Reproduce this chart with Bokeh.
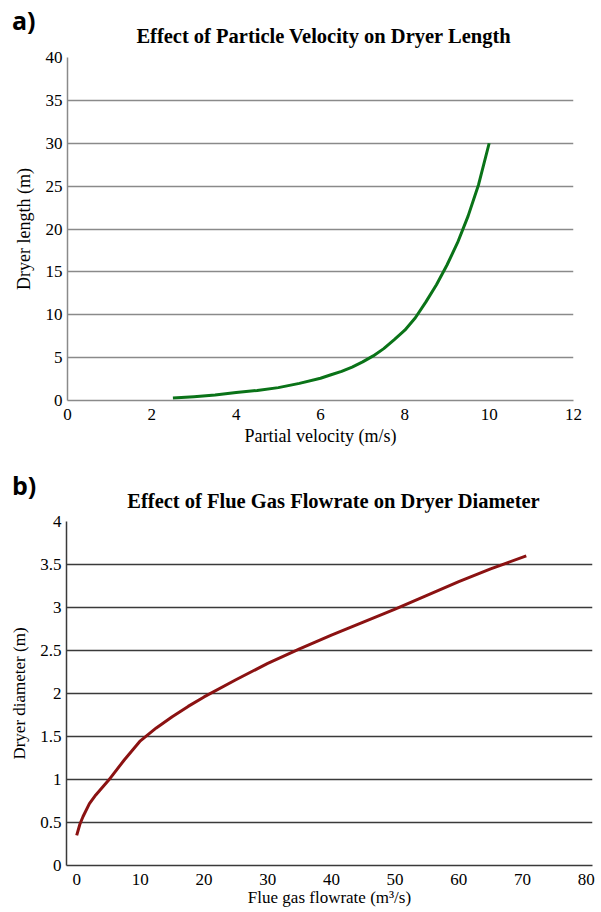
from bokeh.plotting import figure
from bokeh.models import Range1d, FixedTicker, Div
from bokeh.embed import file_html
from bokeh.resources import INLINE

# ---- data: panel a) particle velocity vs dryer length ----
velocity = [2.5, 3.0, 3.5, 4.0, 4.5, 5.0, 5.5, 6.0, 6.25, 6.5, 6.75, 7.0, 7.25, 7.5, 7.75,
            8.0, 8.25, 8.5, 8.75, 9.0, 9.25, 9.5, 9.75, 10.0]
dryer_length = [0.3, 0.45, 0.65, 0.92, 1.17, 1.5, 2.0, 2.6, 3.0, 3.4, 3.9, 4.5, 5.2, 6.05, 7.1,
                8.2, 9.65, 11.5, 13.5, 15.8, 18.4, 21.5, 25.2, 30.0]
a_xticks = [0, 2, 4, 6, 8, 10, 12]
a_yticks = [0, 5, 10, 15, 20, 25, 30, 35, 40]

# ---- data: panel b) flue gas flowrate vs dryer diameter ----
flowrate = [0, 0.5, 1, 2, 3, 5, 7.5, 10, 12.5, 15, 17.5, 20, 25, 30, 35, 40, 45, 50, 55, 60, 65, 70.6]
dryer_diameter = [0.35, 0.48, 0.57, 0.72, 0.82, 0.99, 1.23, 1.45, 1.6, 1.73, 1.85, 1.96, 2.16, 2.35,
                  2.52, 2.68, 2.83, 2.98, 3.14, 3.3, 3.45, 3.6]
b_xticks = [0, 10, 20, 30, 40, 50, 60, 70, 80]
b_yticks = [0, 0.5, 1, 1.5, 2, 2.5, 3, 3.5, 4]
b_ylabels = ["0", "0.5", "1", "1.5", "2", "2.5", "3", "3.5", "4"]

SERIF = "Liberation Serif"


def header(tag, title, height, tag_top, title_top, title_left):
    html = (
        f'<div style="position:relative;width:597px;height:{height}px;margin:0;padding:0;">'
        f'<div style="position:absolute;left:12px;top:{tag_top}px;font-family:\'Open Sans\';'
        f'font-weight:bold;font-size:25px;line-height:34px;color:black;white-space:nowrap;">{tag}</div>'
        f'<div style="position:absolute;left:{title_left}px;width:507px;top:{title_top}px;'
        f'text-align:center;font-family:\'{SERIF}\';font-weight:bold;font-size:20.5px;'
        f'line-height:20px;color:black;white-space:nowrap;">{title}</div>'
        '</div>'
    )
    return Div(text=html, width=597, height=height, margin=0)


def style(p, grid_color, axis_color, tick_size, label_size):
    p.outline_line_color = None
    p.xgrid.grid_line_color = None
    p.ygrid.grid_line_color = grid_color
    p.ygrid.grid_line_width = 1.3
    for ax in (p.xaxis, p.yaxis):
        ax.axis_line_color = axis_color
        ax.axis_line_width = 1.5
        ax.major_tick_line_color = None
        ax.minor_tick_line_color = None
        ax.major_label_text_font = SERIF
        ax.major_label_text_font_size = tick_size
        ax.major_label_text_color = "black"
        ax.axis_label_text_font = SERIF
        ax.axis_label_text_font_style = "normal"
        ax.axis_label_text_font_size = label_size
        ax.axis_label_text_color = "black"
    p.yaxis.major_tick_out = 0
    p.yaxis.major_tick_in = 0


# ---------------- panel a ----------------
head_a = header("a)", "Effect of Particle Velocity on Dryer Length", 48, 3, 26, 70)
pa = figure(width=597, height=400, x_range=Range1d(0, 12), y_range=Range1d(0, 40),
            output_backend="svg", toolbar_location=None,
            min_border_left=67, min_border_right=24, min_border_top=9, min_border_bottom=45)
style(pa, "#8a8a8a", "#8a8a8a", "17px", "18px")
pa.xaxis.ticker = FixedTicker(ticks=a_xticks)
pa.yaxis.ticker = FixedTicker(ticks=a_yticks)
pa.ygrid.ticker = FixedTicker(ticks=a_yticks)
pa.xaxis.axis_label = "Partial velocity (m/s)"
pa.yaxis.axis_label = "Dryer length (m)"
pa.xaxis.major_label_standoff = 2
pa.yaxis.major_label_standoff = 5
pa.xaxis.axis_label_standoff = 3
pa.yaxis.axis_label_standoff = 9
pa.line(velocity, dryer_length, line_color="#0a7318", line_width=3, line_join="round")

# ---------------- panel b ----------------
head_b = header("b)", "Effect of Flue Gas Flowrate on Dryer Diameter", 64, 20, 43, 80)
pb = figure(width=597, height=397, x_range=Range1d(-1.6, 81), y_range=Range1d(0, 4),
            output_backend="svg", toolbar_location=None,
            min_border_left=66, min_border_right=5, min_border_top=9, min_border_bottom=42)
style(pb, "#3a3a3a", "#3a3a3a", "17px", "17px")
pb.xaxis.ticker = FixedTicker(ticks=b_xticks)
pb.yaxis.ticker = FixedTicker(ticks=b_yticks)
pb.ygrid.ticker = FixedTicker(ticks=b_yticks)
pb.yaxis.major_label_overrides = dict(zip(b_yticks, b_ylabels))
pb.xaxis.axis_label = "Flue gas flowrate (m³/s)"
pb.yaxis.axis_label = "Dryer diameter (m)"
pb.xaxis.major_label_standoff = 2
pb.yaxis.major_label_standoff = 5
pb.xaxis.axis_label_standoff = 0
pb.yaxis.axis_label_standoff = 8
pb.line(flowrate, dryer_diameter, line_color="#8b1212", line_width=3, line_join="round")

open("out.html", "w").write(file_html([head_a, pa, head_b, pb], INLINE))
